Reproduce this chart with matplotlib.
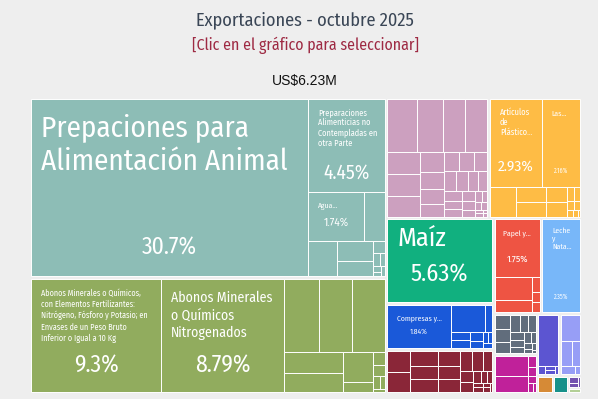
import matplotlib
matplotlib.use('Agg')
import matplotlib.pyplot as plt
from matplotlib.patches import Rectangle
from matplotlib import font_manager as fm
from matplotlib.font_manager import FontProperties

# ---------------- data ----------------
TITLE = 'Exportaciones - octubre 2025'
SUBTITLE = '[Clic en el gráfico para seleccionar]'
TOTAL_LABEL = 'US$6.23M'

group_names = ['Productos alimenticios', 'Productos químicos', 'Textiles', 'Plásticos y cauchos',
               'Productos vegetales', 'Textiles sanitarios', 'Máquinas', 'Papel',
               'Productos animales', 'Metales', 'Instrumentos', 'Minerales', 'Piedras',
               'Madera', 'Calzado', 'Varios', 'Otros']
group_colors = ['#8DBDB6', '#91AC5E', '#CCA0BF', '#FEBC45', '#11B07F', '#1A59D9', '#8A2638',
                '#EE5443', '#78B7F9', '#616D7C', '#C0219A', '#5C55D1', '#979EF6',
                '#D68A36', '#17918A', '#7452AF', '#B3CF96']

food_values = [30.7, 4.45, 1.74, 0.65, 0.62, 0.44, 0.35, 0.08, 0.06, 0.04, 0.03, 0.02, 0.02]
chem_values = [9.3, 8.79, 1.6, 1.55, 1.5, 0.81, 0.70, 0.57, 0.18, 0.1, 0.08, 0.06, 0.04, 0.02]
textile_values = [1.02, 0.87, 0.77, 0.76, 0.46, 0.45, 0.43, 0.3, 0.27, 0.23, 0.2, 0.19, 0.18,
                  0.17, 0.16, 0.15, 0.13, 0.12, 0.11, 0.1, 0.09, 0.08, 0.07, 0.06, 0.05, 0.04,
                  0.03, 0.03, 0.02, 0.02, 0.01, 0.01]
plastic_values = [2.93, 2.16, 0.49, 0.3, 0.29, 0.2, 0.19, 0.07, 0.05, 0.04, 0.03, 0.03, 0.02, 0.01]
vegetable_values = [5.63]
sanitary_values = [1.84, 0.62, 0.12, 0.11, 0.1, 0.08, 0.06, 0.04, 0.03, 0.03]
machine_values = [0.32, 0.3, 0.28, 0.25, 0.24, 0.22, 0.2, 0.18, 0.16, 0.14, 0.12, 0.1, 0.08,
                  0.07, 0.05, 0.04, 0.03, 0.03, 0.02, 0.02, 0.01]
paper_values = [1.75, 0.58, 0.30, 0.07, 0.05, 0.05]
animal_values = [2.35]
metal_values = [0.16, 0.14, 0.12, 0.11, 0.1, 0.09, 0.08, 0.07, 0.06, 0.05, 0.04, 0.03, 0.02, 0.02, 0.01]
instrument_values = [0.48, 0.36, 0.06, 0.05, 0.04, 0.03, 0.02]
mineral_values = [0.74, 0.04, 0.03, 0.03, 0.02]
stone_values = [0.36, 0.2, 0.14, 0.08, 0.03]
wood_values = [0.17]
footwear_values = [0.16]
misc_values = [0.05, 0.03, 0.02]
other_values = [0.04]

group_values = [food_values, chem_values, textile_values, plastic_values, vegetable_values,
                sanitary_values, machine_values, paper_values, animal_values, metal_values,
                instrument_values, mineral_values, stone_values, wood_values, footwear_values,
                misc_values, other_values]

# labelled leaves: (group, leaf, name, name size pt, name align, name offset px, line spacing,
#                   share, share size pt, share vertical position)
labels = [
    (0, 0, 'Prepaciones para\nAlimentación Animal', 21, 'left', 14, 1.22, '30.7%', 17, 0.84),
    (0, 1, 'Preparaciones\nAlimenticias no\nContempladas en\notra Parte', 6, 'left', 9, 1.15, '4.45%', 14, 0.80),
    (0, 2, 'Agua...', 5.5, 'left', 11, 1.1, '1.74%', 8, 0.62),
    (1, 0, 'Abonos Minerales o Químicos,\ncon Elementos Fertilizantes:\nNitrógeno, Fósforo y Potasio; en\n'
           'Envases de un Peso Bruto\nInferior o Igual a 10 Kg', 5.9, 'left', 10, 1.3, '9.3%', 17, 0.77),
    (1, 1, 'Abonos Minerales\no Químicos\nNitrogenados', 10, 'left', 12, 1.3, '8.79%', 17, 0.77),
    (3, 0, 'Artículos\nde\nPlástico...', 6, 'left', 9, 1.1, '2.93%', 11, 0.77),
    (3, 1, 'Las...', 5.5, 'left', 11, 1.1, '2.16%', 4.5, 0.81),
    (4, 0, 'Maíz', 19, 'left', 7, 1.1, '5.63%', 17.5, 0.67),
    (7, 0, 'Papel y...', 5.5, 'center', 11, 1.1, '1.75%', 7, 0.68),
    (8, 0, 'Leche\ny\nNata...', 5.5, 'left', 8, 1.1, '2.35%', 4.5, 0.83),
    (5, 0, 'Compresas y...', 5.5, 'center', 10, 1.1, '1.84%', 5.5, 0.63),
]

# ---------------- layout helpers ----------------
PHI = (1 + 5 ** 0.5) / 2


def squarify(values, x0, y0, x1, y1):
    """d3-style squarified treemap (values sorted descending)."""
    rects = [None] * len(values)
    n = len(values)
    i0 = i1 = 0
    value = float(sum(values))
    while i0 < n:
        dx, dy = x1 - x0, y1 - y0
        sumv = values[i1]
        i1 += 1
        minv = maxv = sumv
        alpha = max(dy / dx, dx / dy) / (value * PHI)
        beta = sumv * sumv * alpha
        minr = max(maxv / beta, beta / minv)
        while i1 < n:
            nv = values[i1]
            s2 = sumv + nv
            mn, mx = min(minv, nv), max(maxv, nv)
            beta = s2 * s2 * alpha
            newr = max(mx / beta, beta / mn)
            if newr > minr:
                break
            sumv, minv, maxv, minr = s2, mn, mx, newr
            i1 += 1
        row = range(i0, i1)
        if dx < dy:
            ny = y0 + dy * sumv / value if i1 < n else y1
            xx = x0
            for k in row:
                w = dx * values[k] / sumv
                rects[k] = (xx, y0, xx + w, ny)
                xx += w
            y0 = ny
        else:
            nx = x0 + dx * sumv / value if i1 < n else x1
            yy = y0
            for k in row:
                h = dy * values[k] / sumv
                rects[k] = (x0, yy, nx, yy + h)
                yy += h
            x0 = nx
        value -= sumv
        i0 = i1
    return rects


def find_condensed():
    prefs = ['Fira Sans Condensed', 'Roboto Condensed', 'Open Sans Condensed',
             'Noto Sans Condensed', 'Liberation Sans Narrow', 'DejaVu Sans Condensed']
    fl = fm.fontManager.ttflist
    for p in prefs:
        for f in fl:
            if f.name == p and f.style == 'normal' and f.weight in (400, 'normal', 'regular'):
                return f.fname
    for f in fl:
        if (str(f.stretch) in ('condensed', 'semi-condensed') and f.style == 'normal'
                and f.weight in (400, 'normal', 'regular')
                and f.name in ('Noto Sans', 'Open Sans', 'Roboto', 'DejaVu Sans', 'Lato', 'Inter')):
            return f.fname
    return fm.findfont(FontProperties(family='Roboto'))


COND = find_condensed()


def fp(size):
    return FontProperties(fname=COND, size=size)


# ---------------- figure ----------------
W, H = 598, 399
BG = '#EEEEEE'
fig = plt.figure(figsize=(W / 100, H / 100), dpi=100, facecolor=BG)
ax = fig.add_axes([0, 0, 1, 1])
ax.set_xlim(0, W)
ax.set_ylim(H, 0)
ax.axis('off')
ax.set_facecolor(BG)

TX0, TY0, TX1, TY1 = 30, 98, 581, 393
GAP = 1.3

totals = [sum(v) for v in group_values]
order = sorted(range(len(totals)), key=lambda i: -totals[i])
grects = squarify([totals[i] for i in order], TX0, TY0, TX1, TY1)
group_rect = {}
for gi, r in zip(order, grects):
    group_rect[gi] = (r[0] + GAP, r[1] + GAP, r[2] - GAP, r[3] - GAP)

leaf_rect = {}
for gi, vals in enumerate(group_values):
    gx0, gy0, gx1, gy1 = group_rect[gi]
    rs = squarify(vals, gx0, gy0, gx1, gy1)
    for li, r in enumerate(rs):
        leaf_rect[(gi, li)] = r
        ax.add_patch(Rectangle((r[0], r[1]), r[2] - r[0], r[3] - r[1],
                               facecolor=group_colors[gi], edgecolor='white',
                               linewidth=0.7))

for gi, li, name, nsz, nha, noff, lsp, share, ssz, sfrac in labels:
    x0, y0, x1, y1 = leaf_rect[(gi, li)]
    if nha == 'left':
        nx = x0 + 10
    else:
        nx = (x0 + x1) / 2
    ax.text(nx, y0 + noff, name, ha=nha, va='top', color='white',
            fontproperties=fp(nsz), linespacing=lsp)
    ax.text((x0 + x1) / 2, y0 + (y1 - y0) * sfrac, share, ha='center', va='center',
            color='white', fontproperties=fp(ssz))

# titles
ax.text(305, 20, TITLE, ha='center', va='center', color='#3A4656', fontproperties=fp(13.2))
ax.text(305, 45, SUBTITLE, ha='center', va='center', color='#9E2A43', fontproperties=fp(11.4))
ax.text(305, 81, TOTAL_LABEL, ha='center', va='center', color='#111111',
        family='Liberation Sans', fontsize=10)

fig.savefig('out.png', dpi=100, facecolor=BG)
